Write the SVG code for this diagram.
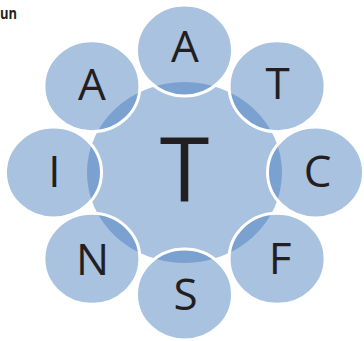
<svg xmlns="http://www.w3.org/2000/svg" width="364" height="341" viewBox="0 0 364 341">
<style>
.lt{fill:#a8c2e0}
.dk{fill:#7aa1cf}
.st{fill:none;stroke:#ffffff;stroke-width:3}
.lb{font-family:"Open Sans","Liberation Sans",sans-serif;font-size:44px;fill:#231f20;text-anchor:middle}
.big{font-family:"Open Sans","Liberation Sans",sans-serif;font-size:90px;fill:#231f20;text-anchor:middle}
.hd{font-family:"Open Sans","Liberation Sans",sans-serif;font-size:16px;font-weight:bold;fill:#231f20}
</style>
<defs>
<clipPath id="cc"><ellipse cx="184.5" cy="172.5" rx="97.5" ry="90.5"/></clipPath>
</defs>
<rect width="364" height="341" fill="#ffffff"/>
<text class="hd" x="0" y="19" textLength="17" lengthAdjust="spacingAndGlyphs">un</text>
<g id="connectors"></g>
<g id="center">
<ellipse class="lt" cx="184.5" cy="172.5" rx="97.5" ry="90.5"/>
<text class="big" x="184.5" y="202">T</text>
</g>
<g id="node-top-A">
<ellipse class="lt" cx="184.5" cy="50.5" rx="48" ry="45.5"/>
<ellipse class="dk" clip-path="url(#cc)" cx="184.5" cy="50.5" rx="48" ry="45.5"/>
<ellipse class="st" cx="184.5" cy="50.5" rx="48" ry="45.5"/>
<text class="lb" x="185" y="62">A</text>
</g>
<g id="node-T">
<ellipse class="lt" cx="277.1" cy="86.2" rx="48" ry="45.5"/>
<ellipse class="dk" clip-path="url(#cc)" cx="277.1" cy="86.2" rx="48" ry="45.5"/>
<ellipse class="st" cx="277.1" cy="86.2" rx="48" ry="45.5"/>
<text class="lb" x="277.5" y="99">T</text>
</g>
<g id="node-C">
<ellipse class="lt" cx="315.5" cy="172.5" rx="48" ry="45.5"/>
<ellipse class="dk" clip-path="url(#cc)" cx="315.5" cy="172.5" rx="48" ry="45.5"/>
<ellipse class="st" cx="315.5" cy="172.5" rx="48" ry="45.5"/>
<text class="lb" x="317.5" y="187">C</text>
</g>
<g id="node-F">
<ellipse class="lt" cx="277.1" cy="258.8" rx="48" ry="45.5"/>
<ellipse class="dk" clip-path="url(#cc)" cx="277.1" cy="258.8" rx="48" ry="45.5"/>
<ellipse class="st" cx="277.1" cy="258.8" rx="48" ry="45.5"/>
<text class="lb" x="280" y="274">F</text>
</g>
<g id="node-S">
<ellipse class="lt" cx="184.5" cy="294.5" rx="48" ry="45.5"/>
<ellipse class="dk" clip-path="url(#cc)" cx="184.5" cy="294.5" rx="48" ry="45.5"/>
<ellipse class="st" cx="184.5" cy="294.5" rx="48" ry="45.5"/>
<text class="lb" x="185.5" y="310">S</text>
</g>
<g id="node-N">
<ellipse class="lt" cx="91.9" cy="258.8" rx="48" ry="45.5"/>
<ellipse class="dk" clip-path="url(#cc)" cx="91.9" cy="258.8" rx="48" ry="45.5"/>
<ellipse class="st" cx="91.9" cy="258.8" rx="48" ry="45.5"/>
<text class="lb" x="92.5" y="275">N</text>
</g>
<g id="node-I">
<ellipse class="lt" cx="53.5" cy="172.5" rx="48" ry="45.5"/>
<ellipse class="dk" clip-path="url(#cc)" cx="53.5" cy="172.5" rx="48" ry="45.5"/>
<ellipse class="st" cx="53.5" cy="172.5" rx="48" ry="45.5"/>
<text class="lb" x="54.5" y="187">I</text>
</g>
<g id="node-left-A">
<ellipse class="lt" cx="91.9" cy="86.2" rx="48" ry="45.5"/>
<ellipse class="dk" clip-path="url(#cc)" cx="91.9" cy="86.2" rx="48" ry="45.5"/>
<ellipse class="st" cx="91.9" cy="86.2" rx="48" ry="45.5"/>
<text class="lb" x="92" y="100">A</text>
</g>
</svg>
